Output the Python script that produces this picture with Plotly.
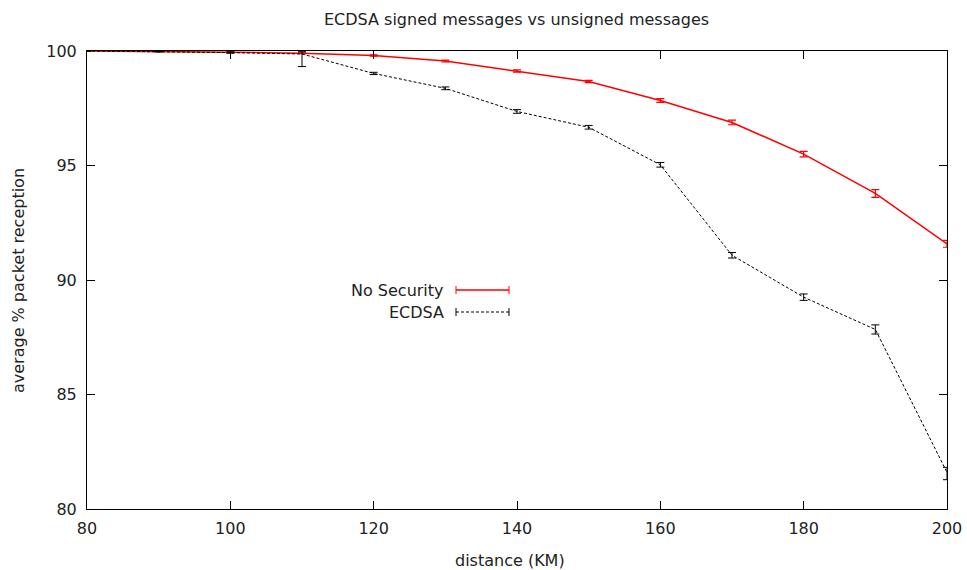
import plotly.graph_objects as go

# Distance in km
distance = [80, 90, 100, 110, 120, 130, 140, 150, 160, 170, 180, 190, 200]

# Average packet reception (%) without security
no_security = [100.0, 99.98, 99.95, 99.9, 99.8, 99.56, 99.13, 98.67, 97.84, 96.88, 95.5, 93.78, 91.58]
no_security_err = [0.0, 0.01, 0.01, 0.02, 0.03, 0.04, 0.05, 0.05, 0.08, 0.1, 0.12, 0.17, 0.15]

# Average packet reception (%) with ECDSA-signed messages
ecdsa = [100.0, 99.97, 99.93, 99.87, 99.02, 98.37, 97.36, 96.67, 95.03, 91.08, 89.25, 87.84, 81.6]
ecdsa_err_plus = [0.0, 0.01, 0.03, 0.1, 0.05, 0.06, 0.08, 0.08, 0.1, 0.12, 0.14, 0.2, 0.22]
ecdsa_err_minus = [0.0, 0.01, 0.03, 0.55, 0.05, 0.06, 0.08, 0.08, 0.1, 0.12, 0.14, 0.2, 0.32]

x_ticks = [80, 100, 120, 140, 160, 180, 200]
y_ticks = [80, 85, 90, 95, 100]

FONT = "DejaVu Sans"
FS = 16
TXT = "#222222"
RED = "#ff0000"
BLACK = "#000000"

fig = go.Figure()

fig.add_trace(go.Scatter(
    x=distance, y=no_security, mode="lines", name="No Security",
    line=dict(color=RED, width=1.5),
    error_y=dict(type="data", array=no_security_err, color=RED, thickness=1.2, width=4),
    cliponaxis=False, showlegend=False,
))

fig.add_trace(go.Scatter(
    x=distance, y=ecdsa, mode="lines", name="ECDSA",
    line=dict(color=BLACK, width=1, dash="3px,2px"),
    error_y=dict(type="data", symmetric=False, array=ecdsa_err_plus,
                 arrayminus=ecdsa_err_minus, color=BLACK, thickness=1, width=4),
    cliponaxis=False, showlegend=False,
))

# Plot-area geometry in pixels, used to place the key and titles
L = 87
W = 860
B = 509
H = 458

def px_x(p):
    return (p - L) / W

def px_y(p):
    return (B - p) / H

annotations = []
shapes = []
legend_rows = [("No Security", RED, "solid", 1.5, 290), ("ECDSA", BLACK, "3px,2px", 1, 312)]
for label, color, dash, width, ypx in legend_rows:
    annotations.append(dict(
        x=px_x(446), y=px_y(ypx), xref="paper", yref="paper", text=label,
        showarrow=False, xanchor="right", yanchor="middle",
        font=dict(family=FONT, size=FS, color=TXT),
    ))
    shapes.append(dict(type="line", xref="paper", yref="paper",
                       x0=px_x(456), x1=px_x(509), y0=px_y(ypx), y1=px_y(ypx),
                       line=dict(color=color, width=width, dash=dash)))
    for xe in (456, 509):
        shapes.append(dict(type="line", xref="paper", yref="paper",
                           x0=px_x(xe), x1=px_x(xe), y0=px_y(ypx - 4), y1=px_y(ypx + 4),
                           line=dict(color=color, width=1)))

# Axis titles and chart title
annotations.append(dict(x=px_x(510), y=px_y(560), xref="paper", yref="paper",
                        text="distance (KM)", showarrow=False,
                        xanchor="center", yanchor="middle",
                        font=dict(family=FONT, size=FS, color=TXT)))
annotations.append(dict(x=px_x(18), y=px_y(281), xref="paper", yref="paper",
                        text="average % packet reception", showarrow=False, textangle=-90,
                        xanchor="center", yanchor="middle",
                        font=dict(family=FONT, size=FS, color=TXT)))
annotations.append(dict(x=px_x(516), y=px_y(19), xref="paper", yref="paper",
                        text="ECDSA signed messages vs unsigned messages", showarrow=False,
                        xanchor="center", yanchor="middle",
                        font=dict(family=FONT, size=FS, color=TXT)))

axis_common = dict(
    showgrid=False, zeroline=False, showline=True, linecolor=BLACK, linewidth=1,
    mirror="ticks", ticks="inside", ticklen=8, tickcolor=BLACK, tickwidth=1,
    tickfont=dict(family=FONT, size=FS, color=TXT), automargin=False,
)

fig.update_layout(
    width=967, height=570,
    margin=dict(l=L, r=967 - L - W, t=51, b=570 - B, autoexpand=False),
    paper_bgcolor="white", plot_bgcolor="white",
    xaxis=dict(range=[80, 200], tickvals=x_ticks, ticklabelstandoff=5, **axis_common),
    yaxis=dict(range=[80, 100], tickvals=y_ticks, ticklabelstandoff=6, **axis_common),
    annotations=annotations, shapes=shapes,
    showlegend=False,
)

fig.write_html("out.html")
